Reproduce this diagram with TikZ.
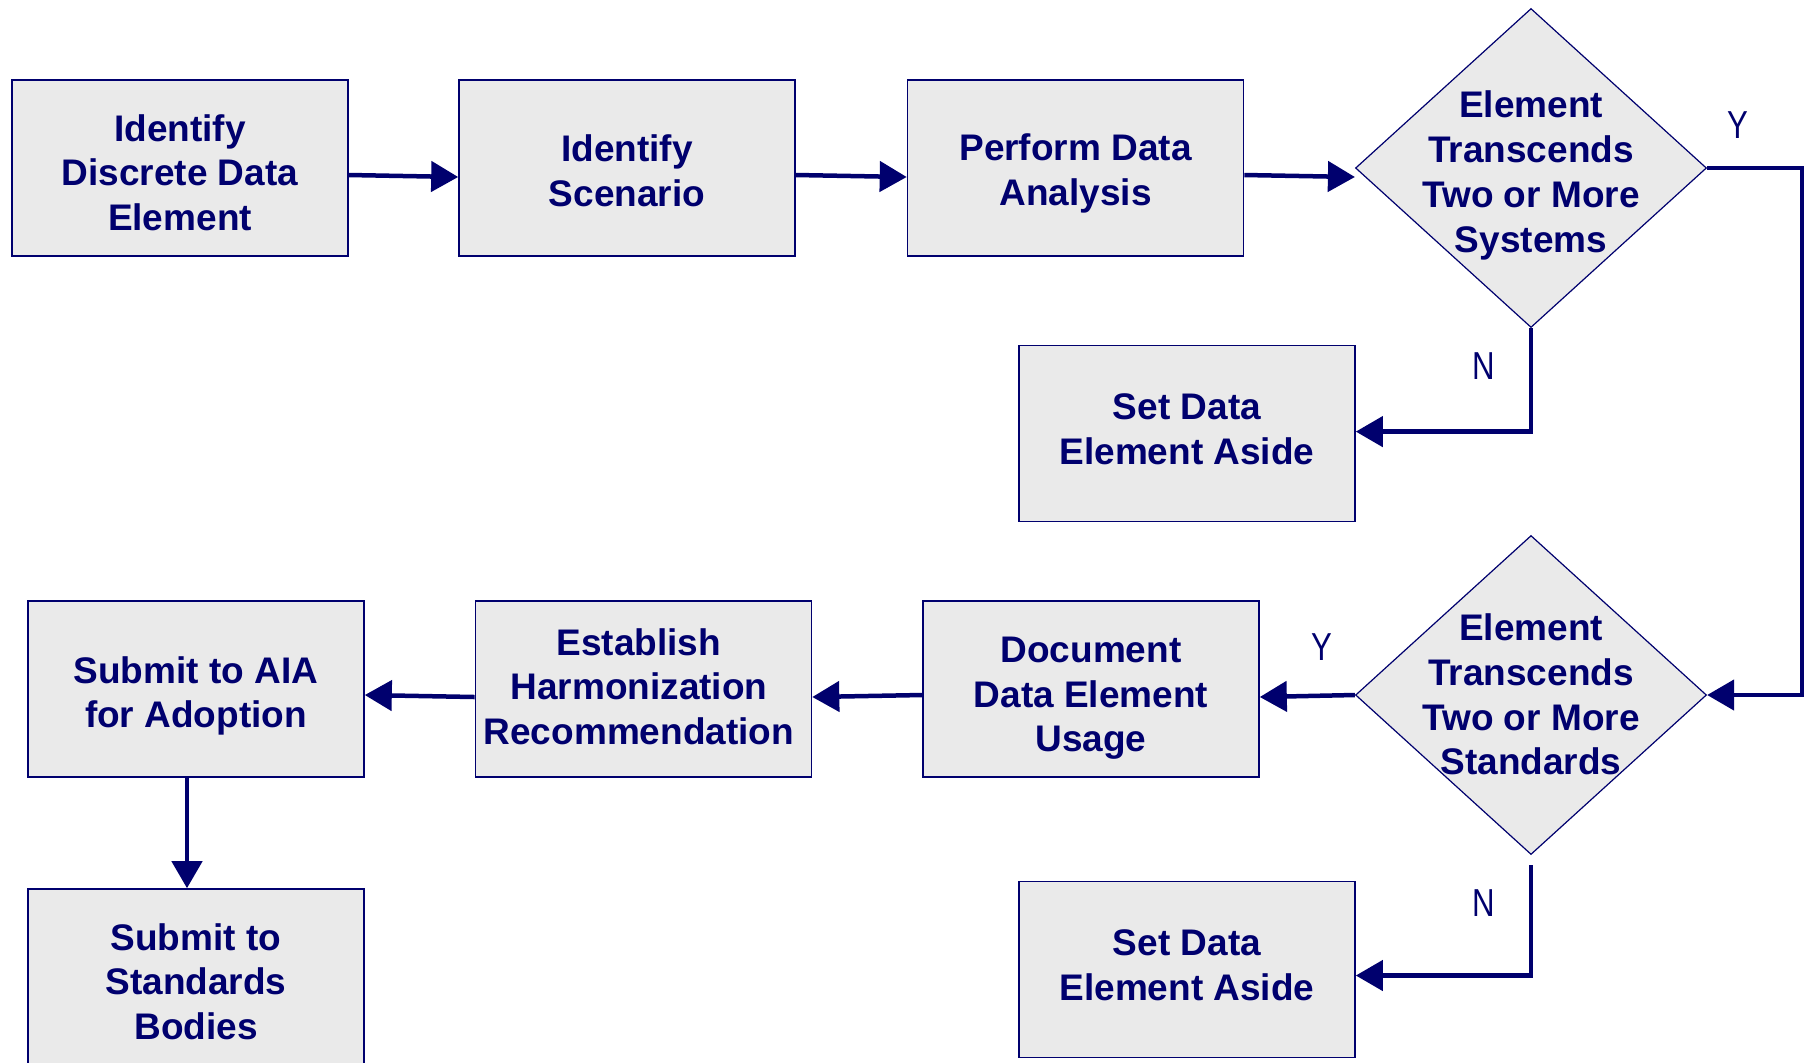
\documentclass[tikz,border=0pt]{standalone}
\usepackage{fontspec}
\usepackage{graphicx}
\setmainfont{Liberation Sans}
\usetikzlibrary{shapes.geometric,arrows.meta}
\definecolor{ink}{RGB}{0,0,110}
\definecolor{boxfill}{RGB}{234,234,234}
\begin{document}
\begin{tikzpicture}[x=0.5pt,y=-0.5pt,
  stepbox/.style={draw=ink, line width=0.8pt, fill=boxfill, minimum width=168pt, minimum height=88pt, inner sep=0pt},
  lbl/.style={text=ink, font=\fontsize{18.5}{22.4}\selectfont\bfseries, align=center},
  dec/.style={diamond, draw=ink, line width=0.6pt, fill=boxfill, minimum width=175.5pt, minimum height=159.5pt, inner sep=0pt},
  flow/.style={draw=ink, line width=2.25pt, -{Triangle[length=13.5pt,width=15pt]}},
  yn/.style={text=ink, font=\fontsize{19.5}{22}\selectfont}]
\clip (0,0) rectangle (1813,1062);
\fill[white] (0,0) rectangle (1813,1062);
% top row
\node[stepbox] (b1) at (180,168) {};
\node[lbl] (b1t) at ([yshift=-2.3pt]b1.center) {Identify\\Discrete Data\\Element};
\node[stepbox] (b2) at (627,168) {};
\node[lbl] (b2t) at ([yshift=-1.2pt]b2.center) {Identify\\Scenario};
\node[stepbox] (b3) at (1075.5,168) {};
\node[lbl] (b3t) at ([yshift=-2.9pt]b3.center) {Perform Data\\Analysis};
\node[dec] (d1) at (1531,168) {};
\node[lbl] (d1t) at ([yshift=-3.7pt]d1.center) {Element\\Transcends\\Two or More\\Systems};
\node[stepbox] (sa1) at (1187,433.6) {};
\node[lbl] (sa1t) at ([yshift=2.3pt]sa1.center) {Set Data\\Element Aside};
% lower row
\node[dec] (d2) at (1531,695) {};
\node[lbl] (d2t) at ([yshift=0.3pt]d2.center) {Element\\Transcends\\Two or More\\Standards};
\node[stepbox] (doc) at (1091,689) {};
\node[lbl] (doct) at ([yshift=-4.6pt]doc.center) {Document\\Data Element\\Usage};
\node[stepbox] (est) at (643.5,689) {};
\node[lbl] (estt) at ([yshift=1.2pt,xshift=-2.3pt]est.center) {Establish\\Harmonization\\Recommendation};
\node[stepbox] (aia) at (196,689) {};
\node[lbl] (aiat) at ([yshift=-3.5pt]aia.center) {Submit to AIA\\for Adoption};
\node[stepbox] (sa2) at (1187,969.5) {};
\node[lbl] (sa2t) at ([yshift=2.3pt]sa2.center) {Set Data\\Element Aside};
\node[stepbox, minimum height=95pt] (std) at (196,984) {};
\node[lbl] (stdt) at ([yshift=1.2pt]std.center) {Submit to\\Standards\\Bodies};
% connectors
\coordinate (cR) at (1802,168);
\draw[flow] ([yshift=-3.5pt]b1.east) -- ([yshift=-4.5pt]b2.west);
\draw[flow] ([yshift=-3.5pt]b2.east) -- ([yshift=-4.5pt]b3.west);
\draw[flow] ([yshift=-3.5pt]b3.east) -- ([yshift=-4.5pt]d1.west);
\draw[flow] (d1.east) -- (cR) |- (d2.east);
\draw[flow] (d1.south) |- ([yshift=1pt]sa1.east);
\draw[flow] ([yshift=-5pt]d2.south) |- ([yshift=-3pt]sa2.east);
\draw[flow] (d2.west) -- ([yshift=-4pt]doc.east);
\draw[flow] ([yshift=-3pt]doc.west) -- ([yshift=-4pt]est.east);
\draw[flow] ([yshift=-4pt]est.west) -- ([yshift=-3pt]aia.east);
\draw[flow] ([xshift=-4.5pt]aia.south) -- ([xshift=-4.5pt]std.north);
% labels
\node[yn] (y1) at (1738,125) {\scalebox{0.8}[1]{Y}};
\node[yn] (n1) at (1483.5,366.5) {\scalebox{0.8}[1]{N}};
\node[yn] (y2) at (1321.6,647.5) {\scalebox{0.8}[1]{Y}};
\node[yn] (n2) at (1483.5,903) {\scalebox{0.8}[1]{N}};
\end{tikzpicture}
\end{document}
